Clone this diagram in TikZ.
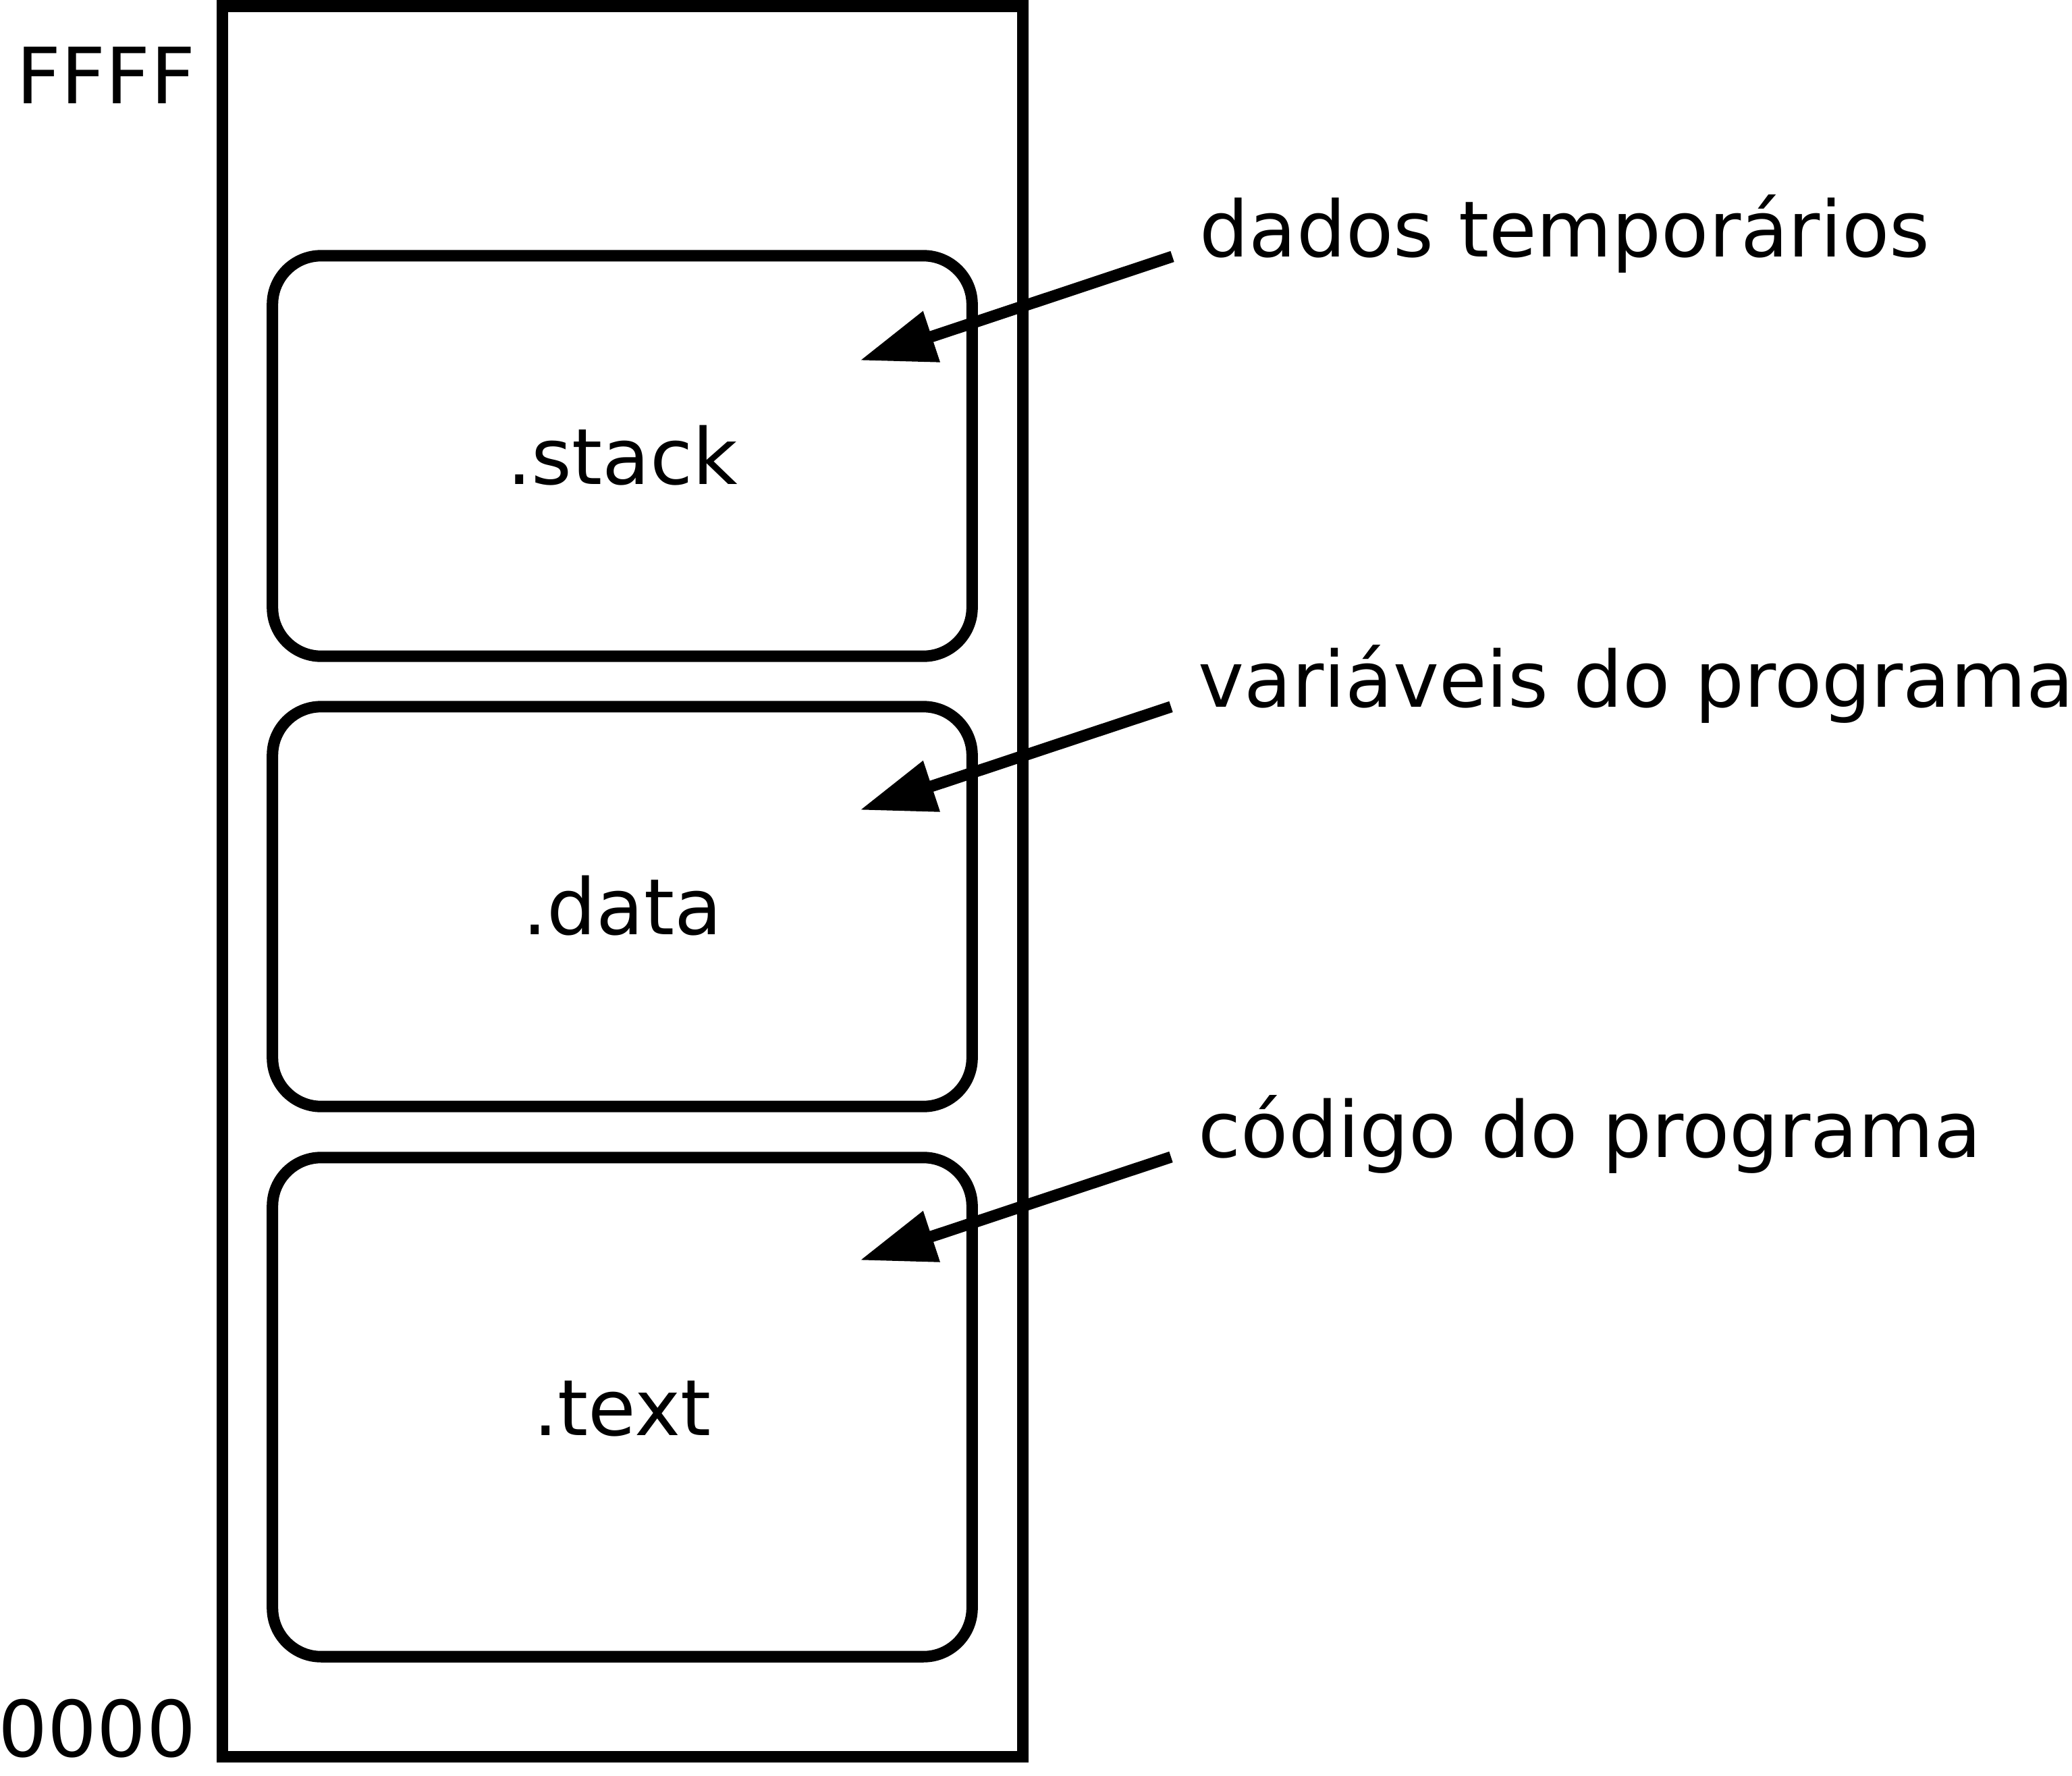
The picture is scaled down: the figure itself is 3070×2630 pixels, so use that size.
\documentclass[tikz,border=0pt]{standalone}
\usepackage{fontspec}
\setmainfont{DejaVu Sans}
\usetikzlibrary{arrows.meta}

\tikzset{
  seg/.style={draw, line width=0.17cm, rounded corners=0.72cm, minimum width=10.36cm,
    inner sep=0pt, text height=23.8pt, text depth=0pt},
  lbl/.style={anchor=base west, inner xsep=0.4cm, inner ysep=0pt},
  addr/.style={anchor=base east, inner sep=0pt},
  ptr/.style={line width=0.17cm, -{Triangle[length=1.12cm, width=0.75cm]}}
}

\begin{document}
\begin{tikzpicture}[x=0.01cm, y=-0.01cm, font=\fontsize{32.7pt}{39pt}\selectfont]
\useasboundingbox (0,0) rectangle (3070,2630);

% memoria
\draw[line width=0.17cm] (329,9) rectangle (1515,2602);
\node[addr] (top) at (290,153) {FFFF};
\node[addr] (bottom) at (291,2602) {0000};

% segmentos
\node[seg, minimum height=5.93cm] (stack) at (922,675.5) {.stack};
\node[seg, minimum height=5.92cm] (data) at (922,1343) {.data};
\node[seg, minimum height=7.39cm] (text) at (922,2084.5) {.text};

% legendas
\node[lbl] (stacklbl) at (1737,380) {dados temporários};
\node[lbl] (datalbl) at (1735,1047) {variáveis do programa};
\node[lbl] (textlbl) at (1735,1714) {código do programa};

\coordinate (stacktip) at (1274,534);
\coordinate (datatip) at (1274,1200);
\coordinate (texttip) at (1274,1867);

\draw[ptr] (stacklbl.base west) -- (stacktip);
\draw[ptr] (datalbl.base west) -- (datatip);
\draw[ptr] (textlbl.base west) -- (texttip);

\end{tikzpicture}
\end{document}
